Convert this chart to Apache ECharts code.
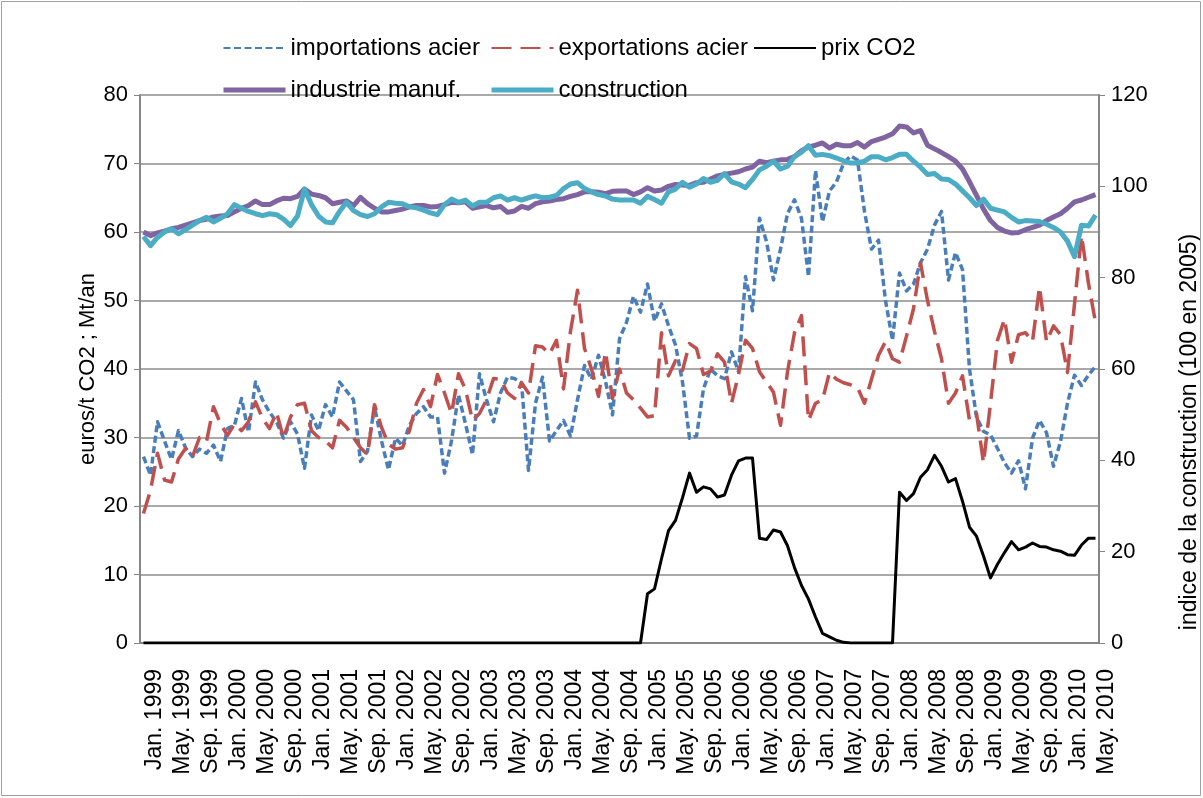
<!DOCTYPE html>
<html>
<head>
<meta charset="utf-8">
<script src="https://cdn.jsdelivr.net/npm/echarts@6/dist/echarts.min.js"></script>
<style>
  html, body { margin: 0; padding: 0; background: #fff; }
  #chart { width: 1203px; height: 798px; }
</style>
</head>
<body>
<div id="chart"></div>
<script>
// monthly, Jan. 1999 .. May. 2010
const monthNames = ['Jan.', 'Feb.', 'Mar.', 'Apr.', 'May.', 'Jun.', 'Jul.', 'Aug.', 'Sep.', 'Oct.', 'Nov.', 'Dec.']
const firstYear = 1999
const monthCount = 137

const leftTicks = { min: 0, max: 80, step: 10 }
const rightTicks = { min: 0, max: 120, step: 20 }

// euros/t CO2 ; Mt/an (left axis)
const importations = [
  27.2, 24.5, 32.3, 29.5, 26.8, 31, 28.5, 27.2, 28.3, 27.7, 28.9, 26.5, 31.3, 31.8, 35.7, 30.8, 38.1, 35.5, 33.7, 32.3, 29.9, 32.3, 30.5, 25.5,
  33.3, 31, 34.8, 33, 38.1, 36.8, 35.5, 26.5, 28, 34.5, 29.5, 25.3, 29.9, 28.8, 31.8, 33.5, 34.5, 33, 33, 24.8, 29.5, 36.2, 32,
  27.5, 39.3, 35.5, 32.3, 36.5, 38.8, 38.6, 38, 25.2, 35, 38.8, 29.5, 31, 32.5, 30.2, 35.5, 40.5, 38.5, 42, 38.2, 33.3, 44.4, 46.8,
  50.6, 48.3, 52.4, 47, 49.5, 46.3, 43.5, 38.1, 29.9, 30.2, 37.1, 40, 39, 38.6, 42.5, 39.6, 53.5, 48.5, 62, 58.6, 53, 57.5, 62.7,
  64.7, 62, 53.5, 69, 61.5, 66, 67.3, 70, 71.1, 70.5, 63, 57.5, 58.8, 50, 44.2, 54, 51.4, 52.4, 55.5, 57.5,
  61, 63, 53, 57, 54.5, 40, 33, 30.9, 30.4, 28.4, 26.3, 24.8, 26.6, 22.5, 29.9, 32.5, 30.7, 25.8, 29.4, 35, 39.1, 37.6, 39.1, 40.4
]
const exportations = [
  18.9, 22.3, 27.7, 23.8, 23.5, 26.9, 28.4, 27.2, 30, 29.4, 34.5, 32, 30.3, 32, 31, 32.3, 35.2, 32.8, 31.3, 33.7, 29.9, 33, 34.8, 35,
  31, 30, 29.5, 28.5, 32.5, 31.5, 30, 28.5, 27.5, 34.8, 31.5, 29, 28.3, 28.5, 31, 35, 37, 34.5, 39.2, 36.5, 33.5, 39.3, 37,
  32.5, 33.5, 35.5, 38.6, 38.5, 36.5, 35.7, 38, 36.5, 43.4, 43.2, 42.2, 44.2, 37.1, 45.5, 51.5, 43, 40, 36, 42.5, 35.7, 40, 36.5,
  35.5, 34.3, 33, 33.2, 45.3, 39, 41.2, 39.8, 43.7, 43, 39.2, 39.7, 42.2, 41, 35, 39.2, 44.2, 43, 39.6, 38.1, 36.6, 31.8, 39.6,
  45.3, 47.8, 32.5, 35, 35.5, 39.5, 38.5, 38, 37.7, 37.3, 35, 38.5, 42, 44, 41.5, 41, 44.8, 48.8, 55.5, 50, 45.5, 41.5,
  35, 36.5, 39, 32.5, 33.5, 26.3, 35, 44.2, 47.3, 41, 45, 45.3, 44, 52, 44, 46.3, 45, 39.5, 49.5, 59.5, 52.5, 46.8
]
const prixCO2 = [
  0, 0, 0, 0, 0, 0, 0, 0, 0, 0, 0, 0, 0, 0, 0, 0, 0, 0, 0, 0, 0, 0, 0, 0,
  0, 0, 0, 0, 0, 0, 0, 0, 0, 0, 0, 0, 0, 0, 0, 0, 0, 0, 0, 0, 0, 0, 0, 0,
  0, 0, 0, 0, 0, 0, 0, 0, 0, 0, 0, 0, 0, 0, 0, 0, 0, 0, 0, 0, 0, 0, 0, 0,
  7.2, 7.9, 12.3, 16.4, 17.9, 21.2, 24.8, 22, 22.8, 22.5, 21.3, 21.6,
  24.5, 26.6, 27, 27, 15.3, 15.1, 16.5, 16.2, 14.2, 11, 8.4, 6.4,
  3.8, 1.4, 0.9, 0.4, 0.1, 0, 0, 0, 0, 0, 0, 0,
  22, 20.8, 21.8, 24.2, 25.3, 27.4, 25.8, 23.5, 24, 20.7, 16.9, 15.6,
  12.7, 9.5, 11.5, 13.2, 14.8, 13.6, 14, 14.6, 14.1, 14, 13.6, 13.4,
  12.9, 12.8, 14.3, 15.3, 15.3
]

// indices, 100 en 2005 (right axis)
const industrieManuf = [
  90, 89.2, 89.8, 90.2, 90.7, 91, 91.5, 92, 92.5, 92.8, 93.3, 93.5, 93.6, 94.4, 95.2, 95.8, 96.8, 96, 96, 96.8, 97.4, 97.3, 97.8, 99.4,
  98.3, 98, 97.5, 96.2, 96.5, 96.8, 95.8, 97.6, 96.2, 95.2, 94.4, 94.4, 94.7, 95, 95.5, 95.8, 95.8, 95.5, 95.6, 96, 96.5, 96.4, 96.6,
  95.2, 95.5, 95.8, 95.3, 95.6, 94.3, 94.6, 95.6, 95.2, 96.2, 96.6, 96.8, 97.1, 97.3, 97.8, 98.2, 98.8, 98.8, 98.7, 98.4, 98.9, 99, 99,
  98.2, 98.8, 99.7, 99, 99.2, 100, 100.4, 100.3, 100.2, 100.8, 100.9, 101.6, 102.3, 102.6, 102.9, 103.2, 103.8, 104.2, 105.5, 105.2, 105.5, 105.8, 105.9,
  106.5, 107.8, 108.6, 109, 109.5, 108.4, 109.2, 108.9, 108.9, 109.6, 108.6, 109.8, 110.3, 110.8, 111.5, 113.2, 113, 111.7, 112.2, 109, 108.2, 107.4,
  106.5, 105.5, 103.8, 101, 98, 95, 92.5, 91, 90.2, 89.8, 89.9, 90.5, 91, 91.5, 92.5, 93.3, 94, 95.2, 96.6, 97, 97.6, 98.2
]
const construction = [
  89, 87, 88.8, 90, 90.7, 89.6, 90.5, 91.5, 92.5, 93.2, 92.2, 93, 94, 96, 95.2, 94.5, 94, 93.6, 94, 93.8, 92.8, 91.4, 93.5, 99.4,
  96, 93.5, 92.2, 92, 94.5, 96.5, 94.7, 93.8, 93.4, 94, 95.5, 96.5, 96.3, 96.2, 95.5, 95.3, 94.8, 94.2, 93.8, 96, 97.2, 96.5, 97,
  95.7, 96.5, 96.5, 97.5, 97.9, 97, 97.5, 97, 97.5, 97.9, 97.5, 97.6, 98, 99.5, 100.5, 100.8, 99.5, 98.8, 98.2, 97.9, 97.2, 97, 97,
  97, 96.3, 97.8, 97.1, 96.3, 98.8, 99.4, 100.9, 99.8, 100.5, 101.7, 100.9, 101.3, 102.8, 101, 100.5, 99.7, 101.5, 103.6, 104.4, 105.5, 103.8, 104.4,
  106.5, 107.5, 108.9, 106.8, 107, 106.7, 106.2, 105.6, 105.1, 105.1, 105.5, 106.5, 106.5, 105.8, 106.3, 107, 107, 105.5, 104.2, 102.6, 102.8, 101.6,
  101.5, 100.5, 99, 97.5, 95.8, 97.2, 95.2, 94.8, 94.4, 93.2, 92.2, 92.5, 92.4, 92.3, 91.7, 91, 90, 88, 84.6, 91.5, 91.3, 93.7
]

const categories = []
for (let i = 0; i < monthCount; i++) {
  categories.push(monthNames[i % 12] + ' ' + (firstYear + Math.floor(i / 12)))
}

const font = 'Liberation Sans, Arial, sans-serif'
const axisGray = '#868686'

function lineSeries (name, data, color, width, type, yAxisIndex) {
  return {
    name: name,
    type: 'line',
    yAxisIndex: yAxisIndex,
    data: data,
    symbol: 'none',
    animation: false,
    lineStyle: { color: color, width: width, type: type, cap: 'butt', join: 'round' },
    itemStyle: { color: color }
  }
}

function legendBlock (left, items) {
  return {
    orient: 'vertical',
    left: left,
    top: 29,
    itemWidth: 62,
    itemHeight: 14,
    itemGap: 14,
    data: items,
    itemStyle: { opacity: 0 },
    textStyle: { fontFamily: font, fontSize: 24, color: '#000', lineHeight: 28 }
  }
}

const option = {
  animation: false,
  backgroundColor: '#fff',
  textStyle: { fontFamily: font },
  grid: { left: 140, right: 104, top: 95, bottom: 155 },
  legend: [
    legendBlock(216, ['importations acier', { name: 'industrie manuf.', lineStyle: { width: 5 } }]),
    legendBlock(484, ['exportations acier', { name: 'construction', lineStyle: { width: 5 } }]),
    legendBlock(748, ['prix CO2'])
  ],
  xAxis: {
    type: 'category',
    data: categories,
    boundaryGap: true,
    axisLine: { lineStyle: { color: axisGray, width: 2 } },
    axisTick: { interval: 0, length: 5, lineStyle: { color: axisGray } },
    axisLabel: {
      interval: 3,
      rotate: 90,
      fontSize: 23,
      color: '#000',
      fontFamily: font,
      margin: 26,
      verticalAlign: 'top'
    },
    splitLine: { show: false }
  },
  yAxis: [
    {
      type: 'value',
      min: leftTicks.min,
      max: leftTicks.max,
      interval: leftTicks.step,
      name: 'euros/t CO2 ; Mt/an',
      nameLocation: 'middle',
      nameGap: 41,
      nameMoveOverlap: false,
      nameTextStyle: { fontSize: 22, color: '#000', fontFamily: font },
      axisLine: { show: true, lineStyle: { color: axisGray, width: 2 } },
      axisTick: { show: true, length: 6, lineStyle: { color: axisGray } },
      axisLabel: { fontSize: 22, color: '#000', fontFamily: font, margin: 12 },
      splitLine: { lineStyle: { color: '#8c8c8c', width: 1.5 } }
    },
    {
      type: 'value',
      min: rightTicks.min,
      max: rightTicks.max,
      interval: rightTicks.step,
      position: 'right',
      axisLine: { show: true, lineStyle: { color: axisGray, width: 2 } },
      axisTick: { show: true, length: 6, lineStyle: { color: axisGray } },
      axisLabel: { fontSize: 22, color: '#000', fontFamily: font, margin: 12 },
      splitLine: { show: false }
    }
  ],
  graphic: [
    {
      type: 'text',
      x: 1190,
      y: 432,
      rotation: Math.PI / 2,
      style: {
        text: 'indice de la construction (100 en 2005)',
        fontSize: 23,
        fontFamily: font,
        fill: '#000',
        textAlign: 'center',
        textVerticalAlign: 'middle'
      }
    },
    {
      type: 'rect',
      shape: { x: 1.5, y: 1.5, width: 1199, height: 794 },
      style: { fill: 'none', stroke: '#a0a0a0', lineWidth: 1 },
      silent: true
    }
  ],
  series: [
    lineSeries('importations acier', importations, '#4a7ebb', 3.5, [7, 3.5], 0),
    lineSeries('exportations acier', exportations, '#c0504d', 3.5, [20, 9], 0),
    lineSeries('prix CO2', prixCO2, '#000000', 3, 'solid', 0),
    lineSeries('industrie manuf.', industrieManuf, '#8064a2', 5, 'solid', 1),
    lineSeries('construction', construction, '#4bacc6', 5, 'solid', 1)
  ]
}

const chart = echarts.init(document.getElementById('chart'), null, { renderer: 'canvas' })
chart.setOption(option)
</script>
</body>
</html>
